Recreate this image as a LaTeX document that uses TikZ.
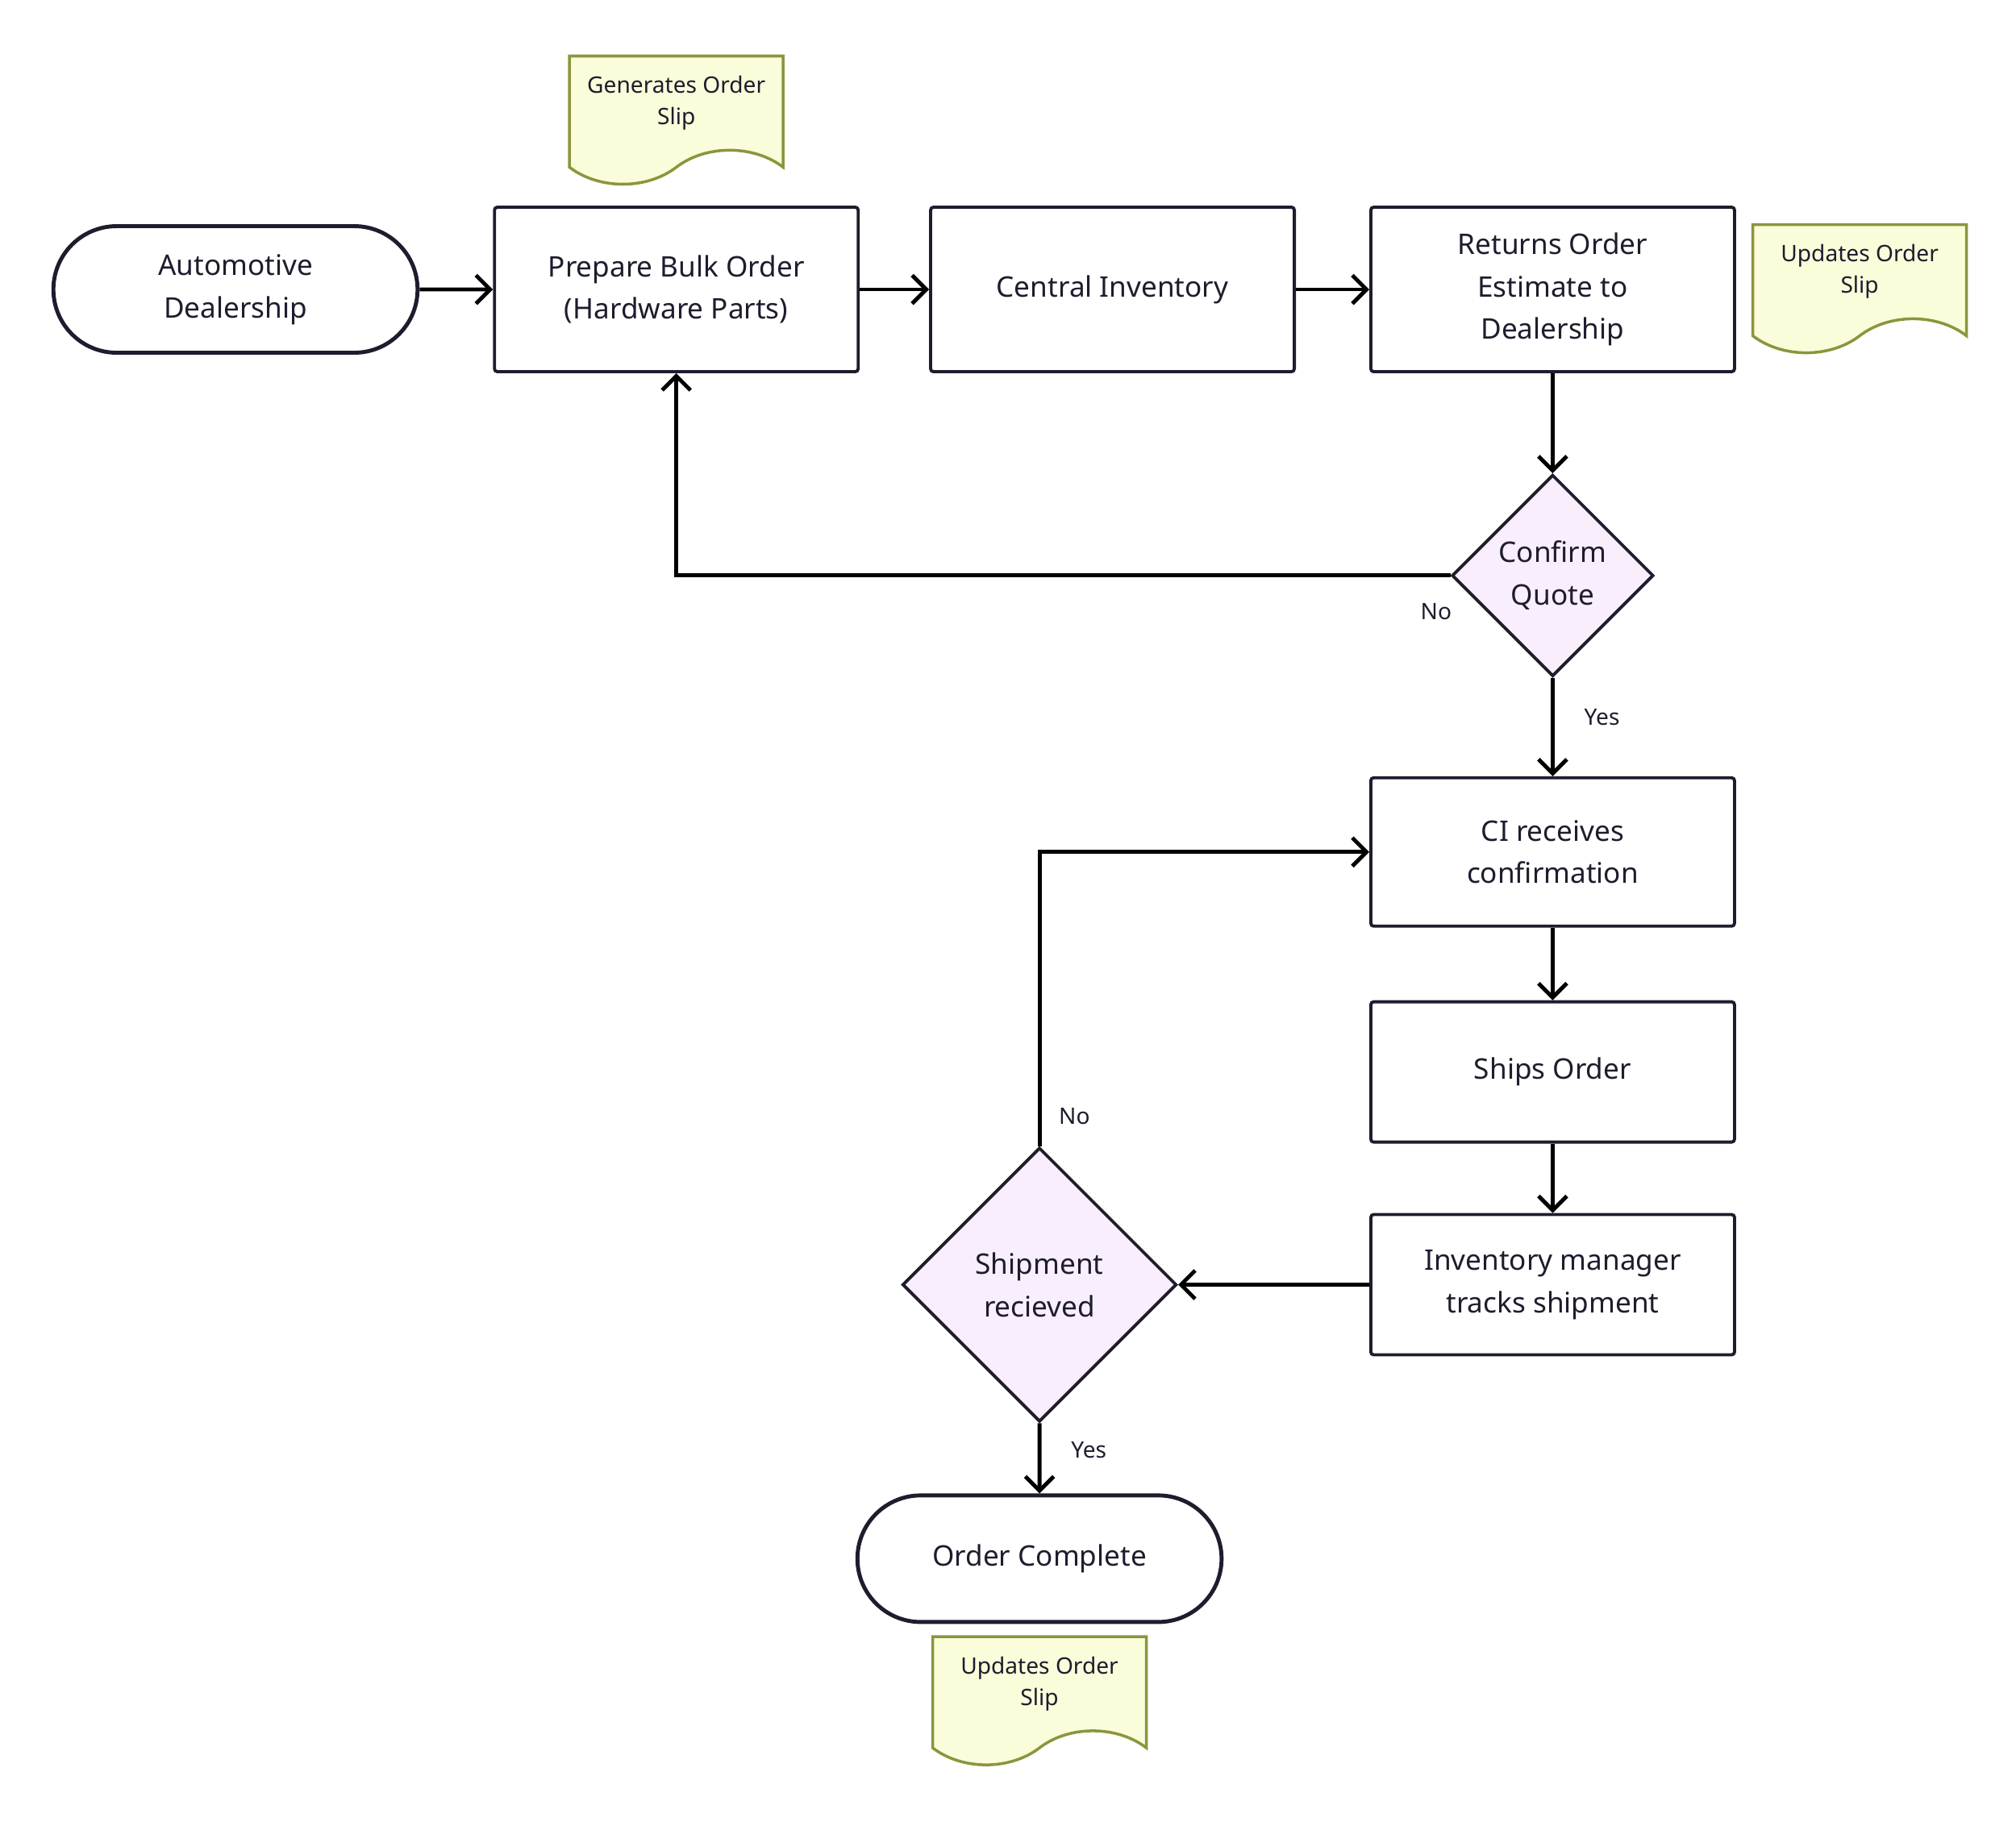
\documentclass[tikz,border=0pt]{standalone}
\usepackage{fontspec}
\setmainfont{Noto Sans}
\usetikzlibrary{arrows.meta,positioning,shapes.geometric,shapes.misc,shapes.symbols}
\definecolor{ink}{RGB}{30,28,45}
\definecolor{lilac}{RGB}{249,238,252}
\definecolor{slipfill}{RGB}{250,252,218}
\definecolor{slipline}{RGB}{138,150,60}

\begin{document}
\begin{tikzpicture}[node distance=0.9cm and 0.9cm, every node/.style={font=\fontsize{10}{15}\selectfont, text=ink}, box/.style={draw=ink, line width=1.1pt, rounded corners=1pt, align=center, minimum width=4.51cm, minimum height=2.04cm}, term/.style={draw=ink, line width=1.4pt, rounded rectangle, align=center, minimum width=4.75cm, minimum height=1.57cm}, choice/.style={draw=ink, line width=1.1pt, fill=lilac, diamond, aspect=1, align=center, inner sep=0pt}, slip/.style={tape, tape bend top=none, tape bend bottom=in and out, tape bend height=12pt, draw=slipline, line width=1pt, fill=slipfill, align=center, minimum width=2.65cm, minimum height=1.59cm, font=\fontsize{8}{11}\selectfont}, arr/.style={-{Straight Barb[length=5pt,width=10pt]}, line width=1.4pt}, lbl/.style={font=\fontsize{8}{10}\selectfont}]
\useasboundingbox (0,0) rectangle (25,-22.59);
\node[term] (dealer) at (2.92,-3.59) {Automotive\\Dealership};
\node[box,right=0.91cm of dealer] (prepare) {Prepare Bulk Order\\(Hardware Parts)};
\node[box,right=0.86cm of prepare] (central) {Central Inventory};
\node[box,right=0.91cm of central] (returns) {Returns Order\\Estimate to\\Dealership};
\node[choice,minimum width=2.5cm,minimum height=2.5cm,below=1.24cm of returns] (confirm) {Confirm\\Quote};
\node[box,minimum height=1.84cm,below=1.22cm of confirm] (ci) {CI receives\\confirmation};
\node[box,minimum height=1.74cm,below=0.9cm of ci] (ships) {Ships Order};
\node[box,minimum height=1.74cm,below=0.86cm of ships] (tracks) {Inventory manager\\tracks shipment};
\node[choice,minimum width=3.4cm,minimum height=3.4cm,left=2.37cm of tracks] (received) {Shipment\\recieved};
\node[term,below=0.87cm of received] (complete) {Order Complete};
\node[slip,above=0.67cm of prepare] (slipA) {Generates Order\\Slip};
\node[slip,right=0.19cm of returns,yshift=0.22cm] (slipB) {Updates Order\\Slip};
\node[slip,below=0.14cm of complete] (slipC) {Updates Order\\Slip};
\draw[arr] (dealer)--(prepare);
\draw[arr] (prepare)--(central);
\draw[arr] (central)--(returns);
\draw[arr] (returns)--(confirm);
\draw[arr] (confirm.west) -| (prepare.south);
\node[lbl,below left=0.22cm and -0.14cm of confirm.west] (no1) {No};
\draw[arr] (confirm)--(ci) node[lbl,pos=0.4,right=0.25cm] (yes1) {Yes};
\draw[arr] (ci)--(ships);
\draw[arr] (ships)--(tracks);
\draw[arr] (tracks)--(received);
\draw[arr] (received.north) |- (ci.west) node[lbl,pos=0.05,right=0.1cm] (no2) {No};
\draw[arr] (received)--(complete) node[lbl,pos=0.38,right=0.25cm] (yes2) {Yes};
\end{tikzpicture}
\end{document}
